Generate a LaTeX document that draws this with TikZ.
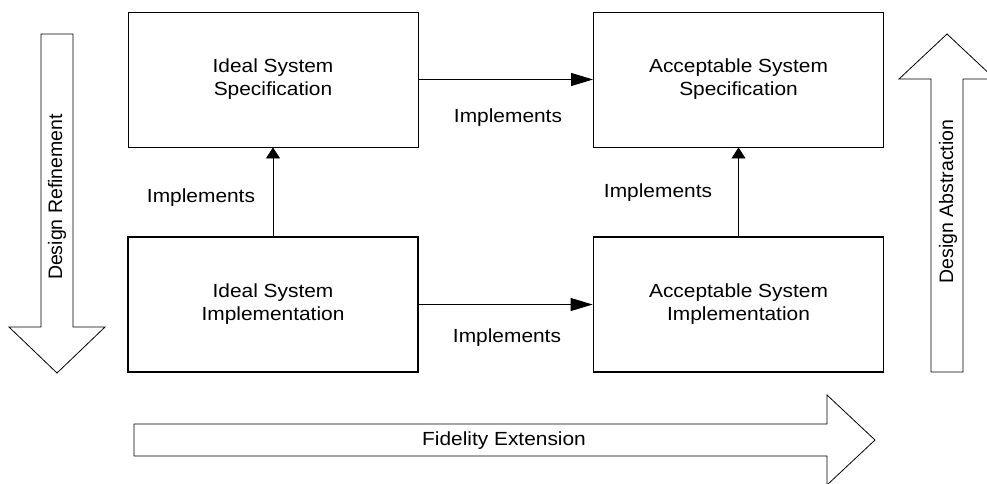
\documentclass[tikz,border=0pt]{standalone}
\usepackage{fontspec}
\setmainfont{Liberation Sans}
\newfontfamily\hfont[FakeStretch=1.1]{Liberation Sans}
\usetikzlibrary{arrows.meta}
\begin{document}
\begin{tikzpicture}[x=1pt,y=-1pt,
  txt/.style={font=\hfont\fontsize{19}{23}\selectfont},
  box/.style={draw, line width=0.9pt, minimum width=290pt, minimum height=135pt, inner sep=0pt, align=center, txt},
  thickbox/.style={box, line width=1.8pt},
  lbl/.style={txt, inner sep=0pt, anchor=base},
  vlbl/.style={font=\fontsize{19.5}{23}\selectfont, inner sep=0pt, anchor=base, rotate=90},
  harr/.style={line width=0.9pt, -{Triangle[length=22pt,width=13pt]}},
  varr/.style={line width=0.9pt, -{Triangle[length=11pt,width=14pt]}},
  bigarrow/.style={draw, line width=0.8pt, line join=miter, fill=white}]
\useasboundingbox (0,0) rectangle (987,483);

% boxes
\node[box] (iss) at (273,79.5) {Ideal System\\Specification};
\node[thickbox] (isi) at (273,304.5) {Ideal System\\Implementation};
\node[box] (ass) at (738.5,79.5) {Acceptable System\\Specification};
\node[thickbox] (asi) at (738.5,304.5) {Acceptable System\\Implementation};

% connectors
\draw[varr] (isi.north) -- (iss.south);
\draw[varr] (asi.north) -- (ass.south);
\draw[harr] (iss.east) -- (ass.west);
\draw[harr] (isi.east) -- (asi.west);

% connector labels
\node[lbl] (l1) at (508,122) {Implements};
\node[lbl] (l2) at (507,342) {Implements};
\node[lbl] (l3) at (201,202) {Implements};
\node[lbl] (l4) at (658,197) {Implements};

% big hollow arrows
\draw[bigarrow] (41,34) -- (73,34) -- (73,327) -- (105,327) -- (57,373) -- (9,327) -- (41,327) -- cycle;
\draw[bigarrow] (931,372) -- (963,372) -- (963,79) -- (995,79) -- (947,34) -- (899,79) -- (931,79) -- cycle;
\draw[bigarrow] (134,424) -- (827,424) -- (827,395) -- (875,440) -- (827,485) -- (827,456) -- (134,456) -- cycle;

% big arrow labels
\node[vlbl] (dr) at (62,197) {Design Refinement};
\node[vlbl] (da) at (953,201.5) {Design Abstraction};
\node[lbl] (fe) at (504,445.7) {Fidelity Extension};
\end{tikzpicture}
\end{document}
